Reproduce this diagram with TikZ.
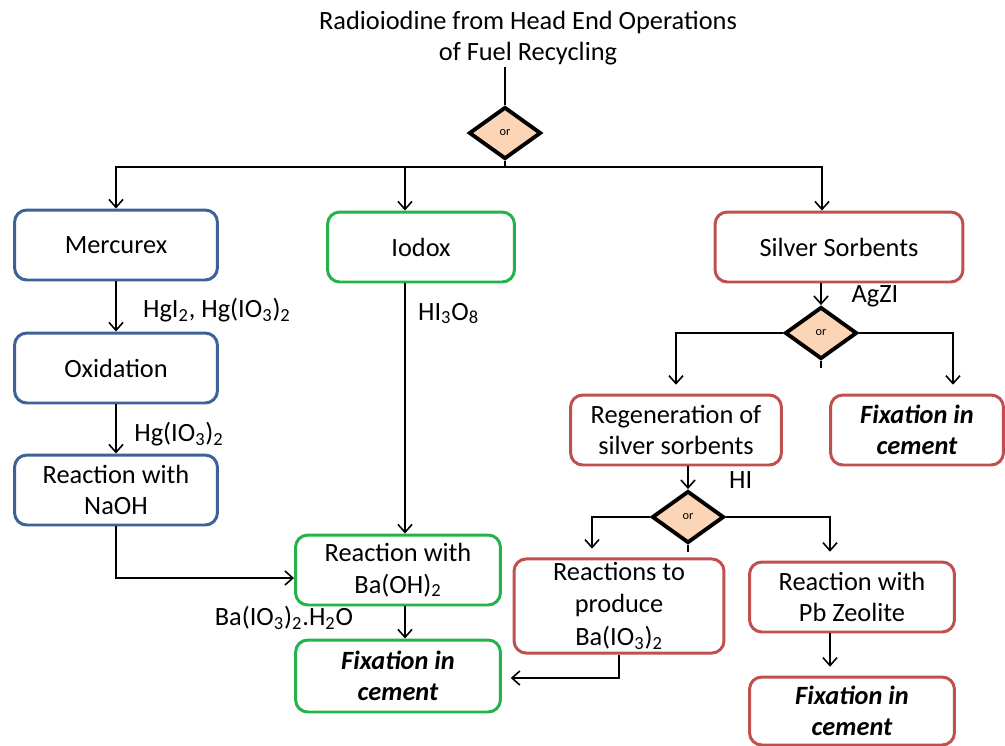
\documentclass[tikz,border=0pt]{standalone}
\usepackage{fontspec}
\setmainfont{Carlito}
\usetikzlibrary{positioning, arrows.meta, calc, shapes.geometric}

\definecolor{mercblue}{RGB}{62,98,152}
\definecolor{iodgreen}{RGB}{36,178,74}
\definecolor{silvred}{RGB}{192,80,77}
\definecolor{orfill}{RGB}{251,213,181}

\tikzset{
  box/.style={draw, line width=1.7pt, rounded corners=7pt, inner sep=2pt,
    minimum height=1.4cm, align=center, font=\fontsize{15}{18}\selectfont},
  bluebox/.style={box, draw=mercblue, minimum width=4.06cm},
  greenbox/.style={box, draw=iodgreen},
  redbox/.style={box, draw=silvred},
  orgate/.style={diamond, draw, line width=2.2pt, fill=orfill, inner sep=0pt,
    minimum width=1.44cm, minimum height=1.04cm, font=\fontsize{7}{8}\selectfont},
  arr/.style={-{Straight Barb[length=4.5pt,width=8pt]}, line width=0.9pt},
  lbl/.style={font=\fontsize{15}{18}\selectfont, inner sep=1pt},
  fix/.style={font=\fontsize{15}{18}\selectfont\bfseries\itshape}
}

\begin{document}
\begin{tikzpicture}[x=0.02cm, y=-0.02cm]
\useasboundingbox (0,0) rectangle (1005,745);

% top
\node[lbl, align=center] (title) at (528,38) {Radioiodine from Head End Operations\\of Fuel Recycling};
\node[orgate] (d1) at (505,133) {or};
\coordinate (bar) at (505,167);
\draw[line width=0.9pt] (d1.north |- title.south) -- (d1.north);
\draw[line width=0.9pt] (d1.south) -- (bar);

% first row
\node[bluebox] (merc) at (116,245) {Mercurex};
\node[greenbox, minimum width=3.74cm] (iodox) at (421,247) {Iodox};
\node[redbox, minimum width=4.96cm] (silver) at (839,247) {Silver Sorbents};

\draw[arr] (bar) -| (merc.north);
\draw[arr] (bar) -| ([xshift=-0.32cm]iodox.north);
\draw[arr] (bar) -| ([xshift=-0.34cm]silver.north);

% mercurex column
\node[bluebox] (oxid) at (116,368) {Oxidation};
\node[bluebox] (naoh) at (116,490) {Reaction with\\NaOH};
\draw[arr] (merc) -- (oxid) node[lbl, midway, right=14pt, yshift=-2pt] {HgI\textsubscript{2}, Hg(IO\textsubscript{3})\textsubscript{2}};
\draw[arr] (oxid) -- (naoh) node[lbl, midway, right=9pt, yshift=-3pt] {Hg(IO\textsubscript{3})\textsubscript{2}};

% iodox column
\node[greenbox, minimum width=4.1cm] (baoh) at (398,570) {Reaction with\\Ba(OH)\textsubscript{2}};
\node[greenbox, fix, minimum width=4.1cm, minimum height=1.44cm] (fixG) at (398,676) {Fixation in\\cement};
\draw[arr] ([xshift=-0.32cm]iodox.south) -- ([xshift=-0.32cm]iodox.south |- baoh.north)
  node[lbl, pos=0.12, right=6pt] {HI\textsubscript{3}O\textsubscript{8}};
\draw[arr] (naoh.south) |- ([yshift=-0.16cm]baoh.west);
\draw[arr] ([xshift=0.14cm]baoh.south) -- ([xshift=0.14cm]fixG.north);
\node[lbl] (baio) at (284,618) {Ba(IO\textsubscript{3})\textsubscript{2}.H\textsubscript{2}O};

% silver column
\node[orgate] (d2) at (821,333) {or};
\draw[arr] (silver.south -| d2) -- (d2.north) node[lbl, midway, right=16pt, yshift=-1pt] {AgZI};
\draw[line width=0.9pt] (d2.south) -- ++(0,7);

\node[redbox, minimum width=4.22cm] (regen) at (676,430) {Regeneration of\\silver sorbents};
\node[redbox, fix, minimum width=3.46cm] (fixR) at (917,430) {Fixation in\\cement};
\draw[arr, shorten >=5pt] (d2.west) -| (regen.north);
\draw[arr, shorten >=5pt] (d2.east) -| ([xshift=0.72cm]fixR.north);

\node[orgate] (d3) at (688,517) {or};
\draw[arr] (regen.south -| d3) -- (d3.north) node[lbl, midway, right=22pt, yshift=-1pt] {HI};
\draw[line width=0.9pt] (d3.south) -- ++(0,7);

\node[redbox, minimum width=4.2cm, minimum height=1.76cm] (react) at (619,606) {Reactions to\\produce\\[1pt]Ba(IO\textsubscript{3})\textsubscript{2}};
\node[redbox, minimum width=4.1cm] (pbz) at (852,597) {Reaction with\\Pb Zeolite};
\node[redbox, fix, minimum width=4.1cm, minimum height=1.36cm] (fixB) at (852,711) {Fixation in\\cement};
\draw[arr, shorten >=5pt] (d3.west) -| ([xshift=-0.54cm]react.north);
\draw[arr, shorten >=5pt] (d3.east) -| ([xshift=-0.44cm]pbz.north);
\draw[arr, shorten >=5pt] ([xshift=-0.44cm]pbz.south) -- ([xshift=-0.44cm]fixB.north);
\draw[arr, shorten >=5pt] (react.south) |- ([yshift=-0.04cm]fixG.east);

\end{tikzpicture}
\end{document}
